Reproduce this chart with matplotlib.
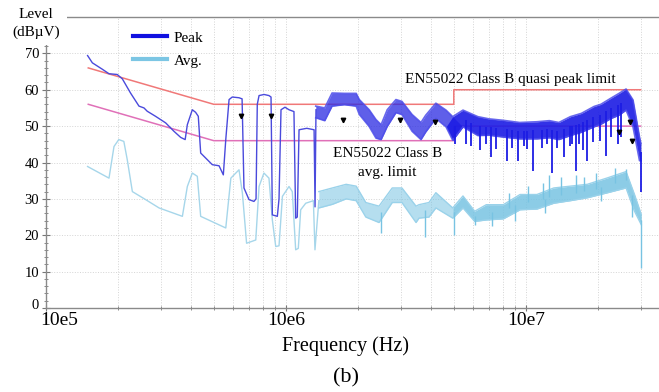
import numpy as np
import matplotlib
matplotlib.use("Agg")
import matplotlib.pyplot as plt
from matplotlib.lines import Line2D
from matplotlib.patches import Rectangle
from matplotlib.ticker import LogLocator, NullFormatter, MultipleLocator
from matplotlib.transforms import ScaledTranslation

plt.rcParams['font.family'] = ['Liberation Serif', 'DejaVu Serif']

# ---- EN55022 Class B limits (frequency in MHz, level in dBuV) ----
limit_freq_mhz = [0.15, 0.5, 5.0, 5.0, 30.0]
qp_limit_db = [66, 56, 56, 60, 60]
avg_limit_db = [56, 46, 46, 50, 50]

# ---- Peak detector: clean low-frequency trace ----
peak_freq_mhz = [0.149, 0.156, 0.172, 0.183, 0.198, 0.208, 0.225, 0.244, 0.256, 0.264,
                 0.286, 0.315, 0.341, 0.364, 0.380, 0.388, 0.407, 0.420, 0.431, 0.441,
                 0.463, 0.493, 0.526, 0.548, 0.561, 0.579, 0.597, 0.637, 0.656, 0.668,
                 0.701, 0.735, 0.750, 0.759, 0.772, 0.810, 0.849, 0.866, 0.877, 0.920,
                 0.935, 0.953, 0.990, 1.029, 1.079, 1.097, 1.114, 1.133, 1.22, 1.309,
                 1.321, 1.333]
peak_db = [69.4, 67.4, 65.6, 64.4, 64.2, 63.0, 59.1, 55.5, 55.0, 54.1,
           52.7, 50.9, 48.6, 46.9, 46.3, 50.4, 54.5, 53.8, 52.7, 42.6,
           41.2, 39.4, 39.1, 36.6, 46.3, 57.3, 58.0, 57.8, 57.5, 33.0,
           29.8, 29.3, 30.0, 56.0, 58.4, 58.7, 58.4, 58.0, 25.6, 25.2,
           30.0, 54.5, 55.2, 54.5, 54.0, 24.7, 25.0, 49.0, 49.4, 49.0,
           27.8, 54.5]

# ---- Peak detector: spread of the dense part of the trace ----
peak_band_freq_mhz = [1.33, 1.45, 1.555, 1.75, 1.96, 2.02, 2.22, 2.37, 2.49, 2.64,
                      2.87, 3.04, 3.35, 3.65, 3.82, 4.21, 4.64, 4.95, 5.46, 6.30,
                      7.0, 8.02, 9.4, 11.1, 12.5, 13.7, 15.3, 17.0, 19.2, 20.5,
                      22.6, 24.4, 26.1, 27.9, 29.7, 30.1]
peak_band_hi = [55.5, 55.0, 59.1, 59.0, 59.0, 57.3, 54.5, 51.8, 50.4, 54.5,
                57.3, 56.8, 53.2, 51.0, 53.0, 56.3, 54.4, 52.6, 54.4, 52.6,
                52.0, 51.6, 51.0, 51.2, 51.5, 51.0, 52.6, 53.5, 55.4, 56.0,
                57.7, 59.0, 60.2, 57.2, 47.0, 45.2]
peak_band_lo = [52.3, 51.5, 55.5, 55.9, 55.5, 53.2, 49.9, 46.7, 46.3, 49.9,
                53.7, 53.2, 48.6, 46.3, 48.4, 52.1, 49.8, 46.1, 49.8, 47.4,
                47.5, 47.0, 46.5, 46.5, 46.8, 46.3, 47.4, 48.3, 49.8, 50.5,
                52.1, 53.0, 54.4, 49.8, 40.5, 40.5]

# notches of the peak trace
peak_dip_freq_mhz = [5.05, 5.6, 5.9, 6.41, 6.8, 7.17, 7.53, 8.29, 8.7, 9.29,
                     9.8, 10.07, 10.74, 11.6, 12.2, 12.83, 13.5, 14.37, 15.2, 15.6,
                     16.1, 16.6, 17.2, 18.0, 19.0, 20.3, 21.5, 22.6, 24.1, 24.9,
                     30.1]
peak_dip_db = [45.0, 45.0, 44.5, 43.3, 45.0, 41.4, 43.7, 40.5, 44.0, 40.5,
               44.5, 43.7, 37.7, 44.0, 45.0, 37.2, 44.0, 41.4, 44.5, 45.0,
               37.7, 45.0, 43.3, 40.5, 45.5, 46.0, 41.9, 47.0, 45.1, 47.0,
               32.0]

# ---- Average detector: clean low-frequency trace ----
avg_freq_mhz = [0.149, 0.183, 0.192, 0.201, 0.211, 0.218, 0.229, 0.260, 0.296, 0.370,
                0.388, 0.407, 0.427, 0.441, 0.561, 0.589, 0.637, 0.658, 0.685, 0.748,
                0.772, 0.809, 0.849, 0.877, 0.906, 0.935, 0.966, 1.029, 1.062, 1.097,
                1.125, 1.151, 1.208, 1.30, 1.32, 1.37]
avg_db = [38.9, 35.7, 44.4, 46.3, 45.8, 40.8, 32.0, 29.8, 27.5, 25.2,
          33.4, 37.1, 36.2, 25.2, 22.0, 35.7, 38.0, 31.6, 17.8, 18.7,
          33.4, 37.1, 35.7, 24.2, 16.9, 17.1, 30.7, 33.4, 32.0, 16.0,
          16.4, 27.0, 28.8, 29.5, 16.0, 29.5]

# ---- Average detector: spread of the dense part of the trace ----
avg_band_freq_mhz = [1.37, 1.56, 1.78, 1.96, 2.15, 2.44, 2.77, 3.04, 3.48, 3.58,
                     3.94, 4.21, 4.95, 5.46, 6.11, 6.83, 8.04, 9.44, 11.1, 13.05,
                     15.3, 18.0, 21.9, 26.1, 28.3, 30.2]
avg_band_hi = [32.0, 33.0, 34.0, 33.5, 29.0, 28.0, 33.0, 33.0, 28.0, 28.4,
               29.0, 31.7, 27.5, 30.8, 26.6, 28.4, 28.4, 31.2, 31.2, 33.0,
               33.5, 34.0, 35.8, 37.5, 31.2, 25.7]
avg_band_lo = [27.5, 28.5, 30.0, 29.5, 25.0, 23.5, 29.0, 29.0, 23.5, 24.7,
               25.0, 27.5, 24.7, 27.5, 23.8, 24.2, 24.5, 27.0, 27.2, 28.8,
               29.5, 30.3, 31.7, 33.0, 26.6, 22.9]

# isolated spikes of the average trace
avg_spike_freq_mhz = [2.48, 3.79, 5.01, 6.11, 7.2, 8.5, 9.0, 10.2, 11.8, 12.0,
                      12.5, 14.0, 16.2, 17.5, 19.5, 20.5, 23.5, 26.1, 27.5, 30.2]
avg_spike_db = [20.6, 19.6, 20.1, 22.9, 22.5, 31.5, 24.0, 33.5, 34.5, 26.0,
                36.5, 36.0, 36.7, 36.0, 37.0, 29.5, 38.5, 38.2, 25.0, 11.0]

# measurement markers
marker_freq_mhz = [0.649, 0.866, 1.73, 2.99, 4.18, 24.4, 27.1, 27.7]
marker_db = [52.9, 52.9, 51.8, 51.8, 51.0, 48.5, 51.2, 46.0]

MHZ = 1e6
PEAK_COLOR = '#1c1ce4'
PEAK_LINE = '#4a4adc'
AVG_COLOR = '#78c3e2'
AVG_LINE = '#a6d6ea'
QP_COLOR = '#f07878'
AV_LIM_COLOR = '#e070b8'

fig = plt.figure(figsize=(6.59, 3.92), dpi=100)
ax = fig.add_axes([46 / 659, 84 / 392, 613 / 659, 291 / 392])
ax.set_xscale('log')
ax.set_xlim(1e5, 3.58e7)
ax.set_ylim(0, 80)

# grid
ax.grid(True, which='both', axis='x', color='#d4d4d4', linestyle=':', linewidth=0.7)
ax.grid(True, which='major', axis='y', color='#d4d4d4', linestyle=':', linewidth=0.7)
ax.set_axisbelow(True)

# limits
lf = np.array(limit_freq_mhz) * MHZ
ax.plot(lf, qp_limit_db, color=QP_COLOR, lw=1.1, zorder=2)
ax.plot(lf, avg_limit_db, color=AV_LIM_COLOR, lw=1.1, zorder=2)

# average trace
ax.plot(np.array(avg_freq_mhz) * MHZ, avg_db, color=AVG_LINE, lw=1.0, zorder=3)
abf = np.array(avg_band_freq_mhz) * MHZ
a_hi = np.array(avg_band_hi)
a_lo = np.array(avg_band_lo)
ax.fill_between(abf, a_lo, a_hi, where=abf <= 5.0e6, interpolate=True,
                color=AVG_COLOR, alpha=0.55, lw=0, zorder=3)
ax.fill_between(abf, a_lo, a_hi, where=abf >= 4.9e6, interpolate=True,
                color=AVG_COLOR, alpha=0.85, lw=0, zorder=3)
ax.plot(abf, a_hi, color='#9ad2ea', lw=1.0, zorder=3)
ax.plot(abf, a_lo, color='#9ad2ea', lw=1.0, zorder=3)
asf = np.array(avg_spike_freq_mhz) * MHZ
a_mid = np.interp(np.log10(asf), np.log10(abf), (a_hi + a_lo) / 2)
ax.vlines(asf, avg_spike_db, a_mid, color=AVG_COLOR, lw=1.0, zorder=3)

# peak trace
ax.plot(np.array(peak_freq_mhz) * MHZ, peak_db, color=PEAK_LINE, lw=1.0, zorder=4)
pbf = np.array(peak_band_freq_mhz) * MHZ
p_hi = np.array(peak_band_hi)
p_lo = np.array(peak_band_lo)
ax.fill_between(pbf, p_lo, p_hi, where=pbf <= 5.0e6, interpolate=True,
                color='#2a2ae2', alpha=0.75, lw=0, zorder=4)
ax.fill_between(pbf, p_lo, p_hi, where=pbf >= 4.9e6, interpolate=True,
                color=PEAK_COLOR, alpha=0.9, lw=0, zorder=4)
ax.plot(pbf, p_hi, color='#4e4eea', lw=1.2, alpha=0.85, zorder=4)
ax.plot(pbf, p_lo, color='#4e4eea', lw=1.2, alpha=0.85, zorder=4)
pdf = np.array(peak_dip_freq_mhz) * MHZ
p_mid = np.interp(np.log10(pdf), np.log10(pbf), (p_hi + p_lo) / 2)
ax.vlines(pdf, peak_dip_db, p_mid, color=PEAK_COLOR, lw=1.3, zorder=4)

# markers
ax.plot(np.array(marker_freq_mhz) * MHZ, marker_db, linestyle='none', marker='v',
        ms=3.2, color='black', zorder=5)

# annotations
ax.text(3.13e6, 62.9, 'EN55022 Class B quasi peak limit', fontsize=11,
        ha='left', va='center', zorder=6)
ax.text(2.64e6, 42.4, 'EN55022 Class B', fontsize=11, ha='center', va='center', zorder=6)
ax.text(2.64e6, 37.3, 'avg. limit', fontsize=11, ha='center', va='center', zorder=6)

# axes styling
ax.spines['right'].set_visible(False)
for s in ['left', 'bottom', 'top']:
    ax.spines[s].set_color('#8a8a8a')
    ax.spines[s].set_linewidth(1.0)

ax.set_xticks([1e5, 1e6, 1e7])
ax.set_xticklabels(['10e5', '10e6', '10e7'], fontsize=14)
ax.xaxis.set_minor_locator(LogLocator(base=10, subs=np.arange(2, 10)))
ax.xaxis.set_minor_formatter(NullFormatter())
ax.tick_params(axis='x', which='major', direction='inout', length=4, color='#777777', pad=1)
ax.tick_params(axis='x', which='minor', direction='inout', length=3, color='#777777')
first = ax.get_xticklabels()[0]
first.set_horizontalalignment('left')
first.set_transform(first.get_transform() + ScaledTranslation(-6 / 100, 0, fig.dpi_scale_trans))

ax.set_yticks(np.arange(0, 71, 10))
ax.set_yticklabels([str(v) for v in range(0, 71, 10)], fontsize=10.5)
ax.yaxis.set_minor_locator(MultipleLocator(2))
ax.tick_params(axis='y', which='major', direction='inout', length=6, color='#777777', pad=2)
ax.tick_params(axis='y', which='minor', direction='inout', length=3.5, color='#777777')
zero = ax.get_yticklabels()[0]
zero.set_transform(zero.get_transform() + ScaledTranslation(0, 4 / 100, fig.dpi_scale_trans))

# legend
handles = [Line2D([], [], color='#1010e0', lw=3),
           Line2D([], [], color='#7cc6e4', lw=3)]
ax.legend(handles, ['Peak', 'Avg.'], loc='upper left',
          bbox_to_anchor=(133 / 659, 1 - 31 / 392), bbox_transform=fig.transFigure,
          frameon=False, fontsize=11, borderpad=0, borderaxespad=0,
          handlelength=2.2, handletextpad=0.45, labelspacing=0.6)

# y-axis title over a white patch at the top-left corner
fig.add_artist(Rectangle((0, 1 - 45 / 392), 67 / 659, 45 / 392, transform=fig.transFigure,
                         facecolor='white', edgecolor='none', zorder=10))
fig.text(36 / 659, 1 - 14 / 392, 'Level', fontsize=11, ha='center', va='center', zorder=11)
fig.text(36 / 659, 1 - 32 / 392, '(dB\u00b5V)', fontsize=11, ha='center', va='center', zorder=11)

fig.text(346 / 659, 1 - 346 / 392, 'Frequency (Hz)', fontsize=14.5, ha='center', va='center')
fig.text(346 / 659, 1 - 378 / 392, '(b)', fontsize=16, ha='center', va='center')

fig.savefig('out.png', dpi=100)
